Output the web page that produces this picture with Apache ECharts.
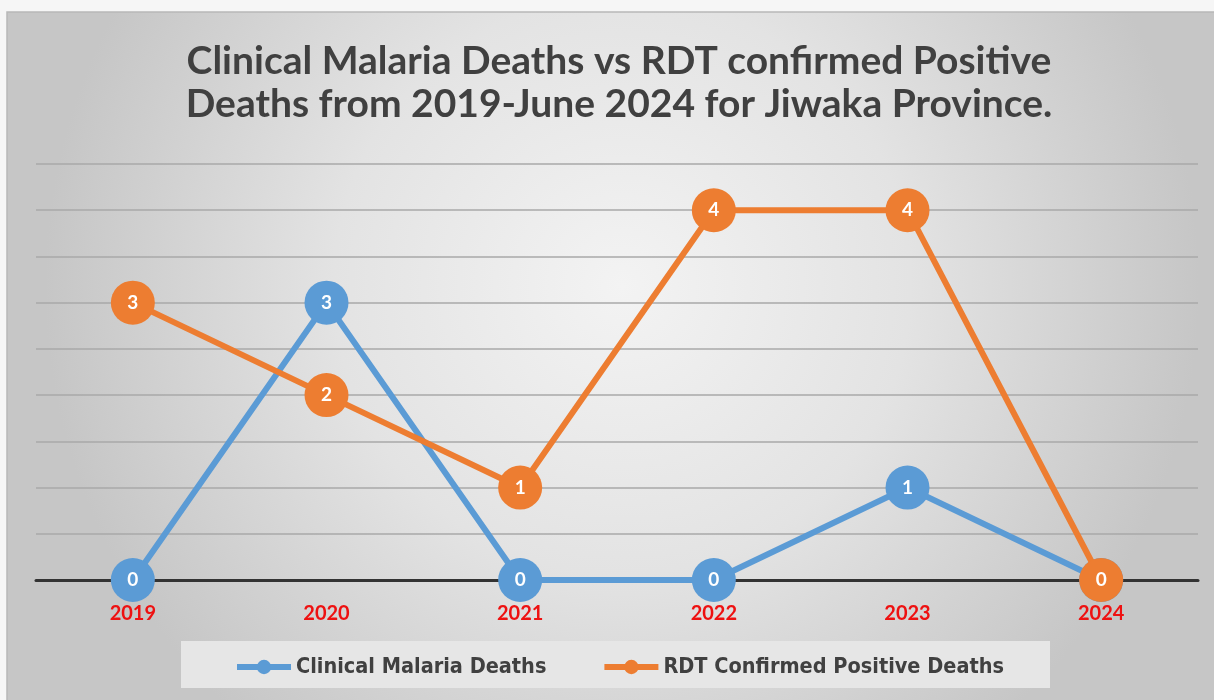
<!DOCTYPE html>
<html>
<head>
<meta charset="utf-8">
<script src="https://cdn.jsdelivr.net/npm/echarts@6/dist/echarts.min.js"></script>
<style>
html,body{margin:0;padding:0;background:#f6f6f6;}
#chart{width:1214px;height:700px;}
</style>
</head>
<body>
<div id="chart"></div>
<script>
const titleText = 'Clinical Malaria Deaths vs RDT confirmed Positive\nDeaths from 2019-June 2024 for Jiwaka Province.';
const years = ['2019', '2020', '2021', '2022', '2023', '2024'];
const clinicalDeaths = [0, 3, 0, 0, 1, 0];
const rdtDeaths = [3, 2, 1, 4, 4, 0];
const seriesNames = ['Clinical Malaria Deaths', 'RDT Confirmed Positive Deaths'];

const chart = echarts.init(document.getElementById('chart'));
const labelStyle = {
  show: true, position: 'inside', color: '#ffffff',
  fontFamily: 'Lato', fontWeight: 'bold', fontSize: 19
};
chart.setOption({
  backgroundColor: '#f6f6f6',
  animation: false,
  graphic: [
    {
      type: 'rect', z: -100, silent: true,
      shape: { x: 7, y: 12, width: 1230, height: 720 },
      style: {
        fill: new echarts.graphic.RadialGradient(0.5, 0.38, 0.8, [
          { offset: 0, color: '#f3f3f3' },
          { offset: 0.5, color: '#e3e3e3' },
          { offset: 1, color: '#c6c6c6' }
        ]),
        stroke: '#b8b8b8', lineWidth: 1.5
      }
    },
    {
      type: 'rect', z: -50, silent: true,
      shape: { x: 181, y: 641, width: 869, height: 47 },
      style: { fill: '#e6e6e6' }
    }
  ],
  title: {
    text: titleText,
    left: 614, top: 35, textAlign: 'center',
    textStyle: {
      fontFamily: 'Lato', fontWeight: 'bold', fontSize: 39,
      color: '#404040', lineHeight: 43
    }
  },
  legend: {
    data: seriesNames,
    top: 651, left: 229,
    itemWidth: 54, itemHeight: 18, itemGap: 55,
    lineStyle: { width: 6 },
    textStyle: {
      fontFamily: "'DejaVu Sans Condensed', Lato", fontWeight: 'bold', fontSize: 21.5, color: '#404040'
    }
  },
  grid: { left: 36, right: 16, top: 164, bottom: 120, containLabel: false },
  xAxis: {
    type: 'category', data: years, boundaryGap: true,
    axisLine: { show: true, lineStyle: { color: '#333333', width: 3 } },
    axisTick: { show: false },
    axisLabel: {
      color: '#ee1111', fontFamily: 'Lato', fontWeight: 'bold', fontSize: 20, margin: 24
    }
  },
  yAxis: {
    type: 'value', min: 0, max: 4.5, interval: 0.5,
    axisLine: { show: false }, axisTick: { show: false }, axisLabel: { show: false },
    splitLine: { show: true, lineStyle: { color: '#a8a8a8', width: 1.5 } }
  },
  series: [
    {
      name: seriesNames[0], type: 'line', data: clinicalDeaths,
      symbol: 'circle', symbolSize: 44,
      itemStyle: { color: '#5B9BD5' },
      lineStyle: { color: '#5B9BD5', width: 6 },
      label: labelStyle, z: 3
    },
    {
      name: seriesNames[1], type: 'line', data: rdtDeaths,
      symbol: 'circle', symbolSize: 44,
      itemStyle: { color: '#ED7D31' },
      lineStyle: { color: '#ED7D31', width: 6 },
      label: labelStyle, z: 4
    }
  ]
});
</script>
</body>
</html>
